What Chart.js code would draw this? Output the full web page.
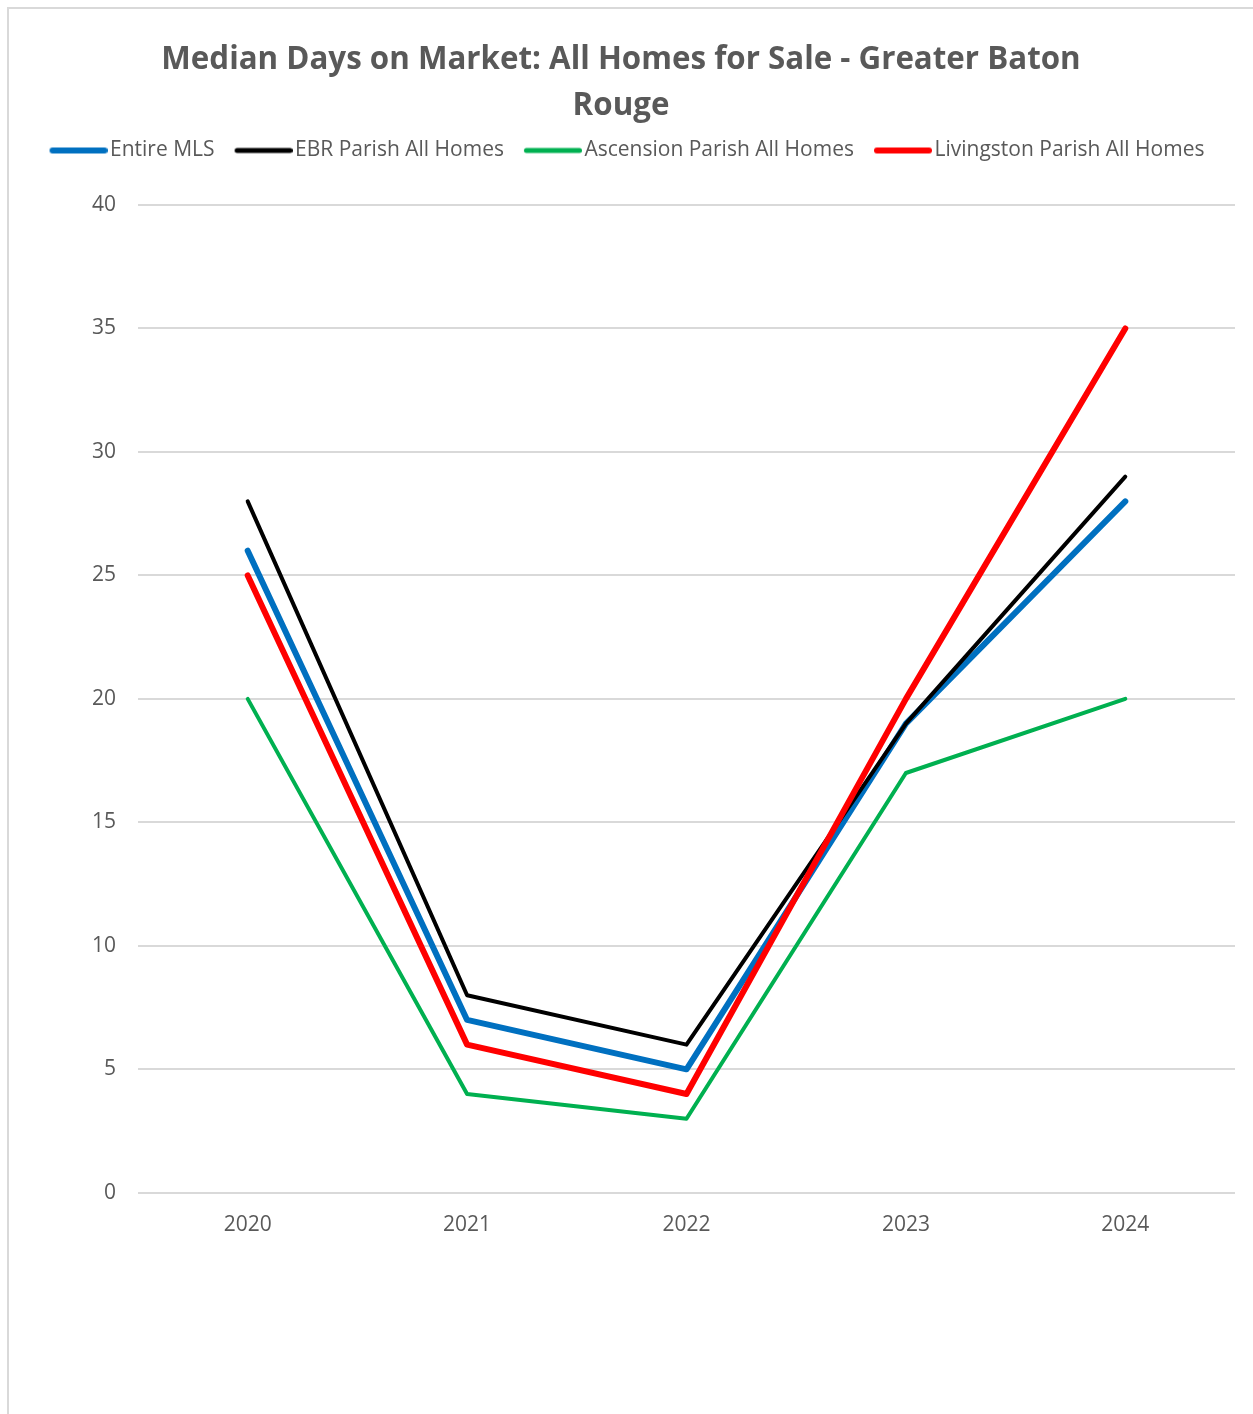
<!DOCTYPE html>
<html>
<head>
<meta charset="utf-8">
<script src="https://cdn.jsdelivr.net/npm/chart.js@4"></script>
<style>
  html, body { margin: 0; padding: 0; background: #fff; }
  #frame { position: absolute; left: 7px; top: 7px; width: 1400px; height: 1500px;
           border-left: 2px solid #d9d9d9; border-top: 2px solid #d9d9d9; }
  #wrap { position: absolute; left: 0; top: 0; width: 1253px; height: 1414px; }
</style>
</head>
<body>
<div id="frame"></div>
<div id="wrap"><canvas id="myChart" width="1253" height="1414"></canvas></div>
<script>
const years = ['2020', '2021', '2022', '2023', '2024'];
const entireMls = [26, 7, 5, 19, 28];
const ebrParish = [28, 8, 6, 19, 29];
const ascensionParish = [20, 4, 3, 17, 20];
const livingstonParish = [25, 6, 4, 20, 35];

const textColor = '#595959';
const gridColor = '#d9d9d9';
const fontFamily = "'Open Sans', 'Noto Sans', sans-serif";

// small line sample for the legend, sitting at the right end of the legend box
function swatch(color, width) {
    const c = document.createElement('canvas');
    c.width = 78;
    c.height = 12;
    const g = c.getContext('2d');
    g.strokeStyle = color;
    g.lineWidth = width;
    g.lineCap = 'round';
    g.beginPath();
    g.moveTo(20 + width / 2, 6);
    g.lineTo(78 - width / 2, 6);
    g.stroke();
    return c;
}

function series(label, data, color, width, keyWidth, order) {
    return {
        label: label,
        data: data,
        borderColor: color,
        backgroundColor: color,
        borderWidth: width,
        borderCapStyle: 'round',
        borderJoinStyle: 'round',
        pointRadius: 0,
        pointHoverRadius: 0,
        pointStyle: swatch(color, keyWidth),
        fill: false,
        tension: 0,
        order: order
    };
}

// extra room between the legend and the plot
const legendGap = {
    id: 'legendGap',
    beforeInit(chart) {
        const fit = chart.legend.fit;
        chart.legend.fit = function () {
            fit.bind(chart.legend)();
            this.height += 34;
        };
    }
};

const ctx = document.getElementById('myChart').getContext('2d');
const myChart = new Chart(ctx, {
    type: 'line',
    data: {
        labels: years,
        datasets: [
            series('Entire MLS', entireMls, '#0070C0', 6, 6, 4),
            series('EBR Parish All Homes', ebrParish, '#000000', 4, 5, 3),
            series('Ascension Parish All Homes', ascensionParish, '#00B050', 4, 5, 2),
            series('Livingston Parish All Homes', livingstonParish, '#FF0000', 6, 6, 1)
        ]
    },
    plugins: [legendGap],
    options: {
        responsive: false,
        animation: false,
        events: [],
        layout: { padding: { top: 0, left: 7, right: 18, bottom: 156 } },
        plugins: {
            title: {
                display: true,
                text: ['Median Days on Market: All Homes for Sale - Greater Baton', 'Rouge'],
                color: textColor,
                font: { family: fontFamily, size: 31.3, weight: 'bold', lineHeight: '46px' },
                padding: { top: 37, bottom: 3 }
            },
            legend: {
                position: 'top',
                labels: {
                    usePointStyle: true,
                    pointStyleWidth: 62,
                    padding: 8,
                    color: textColor,
                    font: { family: fontFamily, size: 21 },
                    sort: (a, b) => a.datasetIndex - b.datasetIndex
                }
            },
            tooltip: { enabled: false }
        },
        scales: {
            x: {
                offset: true,
                grid: { display: false, drawTicks: false },
                border: { display: false },
                ticks: { color: textColor, padding: 20, font: { family: fontFamily, size: 21 } }
            },
            y: {
                min: 0,
                max: 40,
                afterFit(scale) { scale.width = 131; },
                grid: { color: gridColor, lineWidth: 2, drawTicks: false },
                border: { display: false },
                ticks: { stepSize: 5, color: textColor, padding: 22, font: { family: fontFamily, size: 21 } }
            }
        }
    }
});
</script>
</body>
</html>
